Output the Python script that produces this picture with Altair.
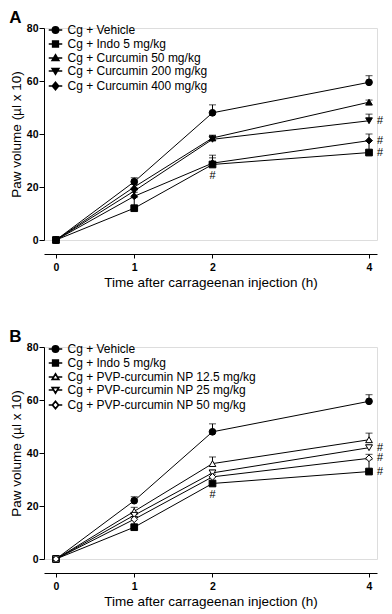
import altair as alt
import pandas as pd

FONT = "Liberation Sans, Arial, sans-serif"

times = [0, 1, 2, 4]
time_ticks = [0, 1, 2, 4]
y_ticks = [0, 20, 40, 60, 80]

# ---------------- Panel A ----------------
series_a = ["Cg + Vehicle", "Cg + Indo 5 mg/kg", "Cg + Curcumin 50 mg/kg",
            "Cg + Curcumin 200 mg/kg", "Cg + Curcumin 400 mg/kg"]
mean_a = [
    [0, 22.0, 48.0, 59.5],
    [0, 12.0, 28.5, 33.0],
    [0, 20.0, 38.5, 52.0],
    [0, 18.5, 38.0, 45.0],
    [0, 16.5, 29.0, 37.5],
]
sem_a = [
    [0, 1.5, 3.0, 2.5],
    [0, 4.0, 2.5, 4.5],
    [0, 1.0, 1.0, 0.8],
    [0, 1.0, 1.5, 2.5],
    [0, 1.5, 3.0, 2.5],
]
shape_a = ["circle", "square", "triangle-up", "triangle-down", "diamond"]
fill_a = ["black", "black", "black", "black", "black"]
open_a = [False, False, False, False, False]
hash_right_a = [45.0, 37.5, 33.0]   # '#' right of the 4 h points
hash_below_a = [28.5]               # '#' below the 2 h point

# ---------------- Panel B ----------------
series_b = ["Cg + Vehicle", "Cg + Indo 5 mg/kg", "Cg + PVP-curcumin NP 12.5 mg/kg",
            "Cg + PVP-curcumin NP 25 mg/kg", "Cg + PVP-curcumin NP 50 mg/kg"]
mean_b = [
    [0, 22.0, 48.0, 59.5],
    [0, 12.0, 28.5, 33.0],
    [0, 18.0, 36.0, 45.0],
    [0, 16.5, 32.5, 42.0],
    [0, 15.0, 31.0, 38.0],
]
sem_b = [
    [0, 1.5, 3.0, 2.5],
    [0, 4.0, 2.5, 4.5],
    [0, 1.5, 2.5, 2.5],
    [0, 1.0, 1.0, 1.0],
    [0, 1.0, 1.0, 1.5],
]
shape_b = ["circle", "square", "triangle-up", "triangle-down", "diamond"]
fill_b = ["black", "black", "white", "white", "white"]
open_b = [False, False, True, True, True]
hash_right_b = [42.0, 38.0, 33.0]
hash_below_b = [28.5]

# legend symbols (unit square [-1,1]): marker with a short line through it;
# open markers get an inner contour of opposite winding (a hole)
LEG_FILLED = {
    "circle": "M-1.35,0H1.35M0.64,0A0.64,0.64 0 1,1 -0.64,0A0.64,0.64 0 1,1 0.64,0Z",
    "square": "M-1.35,0H1.35M-0.58,-0.58H0.58V0.58H-0.58Z",
    "triangle-up": "M-1.35,0H1.35M0,-0.65L0.69,0.5H-0.69Z",
    "triangle-down": "M-1.35,0H1.35M0,0.65L-0.69,-0.5H0.69Z",
    "diamond": "M-1.35,0H1.35M0,-0.76L0.64,0L0,0.76L-0.64,0Z",
}
LEG_OPEN = {
    "circle": "M-1.35,0H-0.64M0.64,0H1.35M0.64,0A0.64,0.64 0 1,1 -0.64,0A0.64,0.64 0 1,1 0.64,0Z"
              "M0.6,0A0.6,0.6 0 1,0 -0.6,0A0.6,0.6 0 1,0 0.6,0Z",
    "square": "M-1.35,0H-0.58M0.58,0H1.35M-0.58,-0.58H0.58V0.58H-0.58Z"
              "M-0.54,-0.54V0.54H0.54V-0.54Z",
    "triangle-up": "M-1.35,0H-0.39M0.39,0H1.35M0,-0.65L0.69,0.5H-0.69Z"
                   "M0,-0.6L-0.64,0.47H0.64Z",
    "triangle-down": "M-1.35,0H-0.39M0.39,0H1.35M0,0.65L-0.69,-0.5H0.69Z"
                     "M0,0.6L0.64,-0.47H-0.64Z",
    "diamond": "M-1.35,0H-0.64M0.64,0H1.35M0,-0.76L0.64,0L0,0.76L-0.64,0Z"
               "M0,-0.71L-0.59,0L0,0.71L0.59,0Z",
}


def panel(label, series, means, sems, shapes, fills, opens, hash_right, hash_below):
    rows = []
    for s, m, e in zip(series, means, sems):
        for t, mv, ev in zip(times, m, e):
            rows.append({"series": s, "t": t, "mean": mv, "sem": ev, "upper": mv + ev})
    df = pd.DataFrame(rows)
    df_err = df[df["sem"] > 0]
    df_leg = df[df["t"] == 0]

    xsc = alt.Scale(domain=[-0.153, 4.102], nice=False, zero=False)
    ysc = alt.Scale(domain=[0, 80], nice=False)

    common_axis = dict(
        grid=False, domainColor="black", tickColor="black", labelColor="black",
        titleColor="black", labelFont=FONT, titleFont=FONT, labelFontSize=10.5,
        titleFontSize=13.5, titleFontWeight="normal", labelFontWeight="bold",
    )
    x = alt.X("t:Q", scale=xsc, axis=alt.Axis(
        values=time_ticks, title="Time after carrageenan injection (h)", offset=14,
        tickSize=4, labelPadding=4, titlePadding=3, format="d", **common_axis))
    y = alt.Y("mean:Q", scale=ysc, axis=alt.Axis(
        values=y_ticks, title="Paw volume (µl x 10)", tickSize=5, labelPadding=1,
        titlePadding=3, **common_axis))

    base = alt.Chart(df)
    lines = base.mark_line(color="black", strokeWidth=1).encode(
        x=x, y=y, detail="series:N")
    rules = alt.Chart(df_err).mark_rule(color="black", strokeWidth=1).encode(
        x="t:Q", y="mean:Q", y2="upper:Q")
    caps = alt.Chart(df_err).mark_tick(color="black", orient="horizontal",
                                         size=7, thickness=1).encode(
        x="t:Q", y="upper:Q")
    pts = base.mark_point(filled=True, stroke="black", strokeWidth=1, size=45,
                          opacity=1).encode(
        x="t:Q", y="mean:Q",
        shape=alt.Shape("series:N", scale=alt.Scale(domain=series, range=shapes),
                        legend=None),
        fill=alt.Fill("series:N", scale=alt.Scale(domain=series, range=fills),
                      legend=None),
    )
    leg_paths = [(LEG_OPEN if o else LEG_FILLED)[s] for s, o in zip(shapes, opens)]
    leg = alt.Chart(df_leg).mark_point(filled=True, color="black", stroke="black",
                                       strokeWidth=1, opacity=0).encode(
        x="t:Q", y="mean:Q",
        shape=alt.Shape("series:N", scale=alt.Scale(domain=series, range=leg_paths),
                        legend=alt.Legend(
                            title=None, orient="none", legendX=5.5, legendY=-4,
                            labelFont=FONT, labelFontSize=12, labelColor="black",
                            labelOffset=6, labelLimit=300, rowPadding=1, padding=0)),
    )
    hr = pd.DataFrame({"t": [4] * len(hash_right), "v": hash_right, "s": ["#"] * len(hash_right)})
    hb = pd.DataFrame({"t": [2] * len(hash_below), "v": hash_below, "s": ["#"] * len(hash_below)})
    txt_r = alt.Chart(hr).mark_text(dx=11, fontSize=11, font=FONT, color="black").encode(
        x="t:Q", y="v:Q", text="s:N")
    txt_b = alt.Chart(hb).mark_text(dy=12, fontSize=11, font=FONT, color="black").encode(
        x="t:Q", y="v:Q", text="s:N")

    return alt.layer(lines, rules, caps, pts, txt_r, txt_b, leg).resolve_scale(
        shape="independent", fill="independent"
    ).properties(
        width=333, height=212,
        title=alt.TitleParams(label, anchor="start", fontSize=17, fontWeight="bold",
                              font=FONT, offset=-4),
    )


pa = panel("A", series_a, mean_a, sem_a, shape_a, fill_a, open_a, hash_right_a, hash_below_a)
pb = panel("B", series_b, mean_b, sem_b, shape_b, fill_b, open_b, hash_right_b, hash_below_b)

chart = alt.vconcat(pa, pb, spacing=37).configure_view(stroke=None).configure_legend(
    symbolSize=121, symbolStrokeWidth=1, symbolOpacity=1, symbolFillColor="black",
    symbolStrokeColor="black",
).configure(padding=0)

chart.save("out.html", embed_options={"renderer": "svg", "actions": False})
